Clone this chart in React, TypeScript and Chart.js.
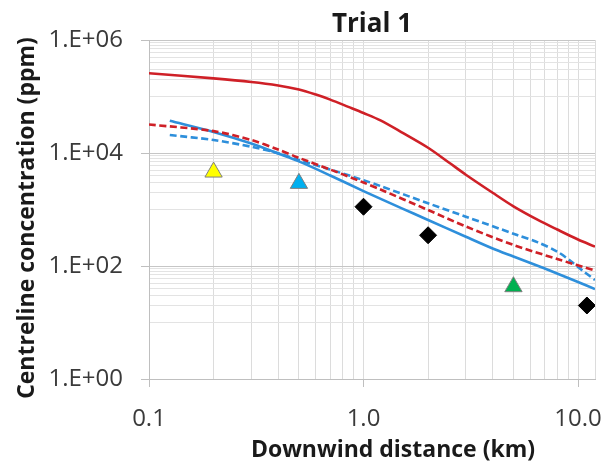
import { useEffect, useRef } from 'react';
import { Chart, registerables } from 'chart.js';

Chart.register(...registerables);

const FONT = '"Open Sans", "Liberation Sans", sans-serif';

const TITLE = 'Trial 1';
const X_TITLE = 'Downwind distance (km)';
const Y_TITLE = 'Centreline concentration (ppm)';

// Axis ticks / gridlines
const X_GRID = [0.1, 0.2, 0.3, 0.4, 0.5, 0.6, 0.7, 0.8, 0.9, 1, 2, 3, 4, 5, 6, 7, 8, 9, 10, 12];
const X_MAJOR = [0.1, 1, 10];
const X_LABELS = ['0.1', '1.0', '10.0'];
const Y_GRID = [
  1, 10, 20, 30, 40, 50, 60, 70, 80, 90, 100, 1000, 2000, 3000, 4000, 5000, 6000, 7000, 8000, 9000,
  1e4, 1e5, 2e5, 3e5, 4e5, 5e5, 6e5, 7e5, 8e5, 9e5, 1e6,
];
const Y_MAJOR = [1, 100, 1e4, 1e6];
const Y_LABELS = ['1.E+00', '1.E+02', '1.E+04', '1.E+06'];

// Model curves
const RED_SOLID_X = [0.1, 0.2, 0.3, 0.4, 0.5, 0.6, 0.7, 0.85, 1.0, 1.2, 1.5, 2.0, 2.5, 3.0, 4.0, 5.0, 6.5, 8.0, 10, 12];
const RED_SOLID_Y = [2.58e5, 2.09e5, 1.81e5, 1.57e5, 1.33e5, 1.08e5, 8.8e4, 6.55e4, 5.1e4, 3.78e4, 2.35e4, 1.24e4, 6.8e3, 4.13e3, 1.98e3, 1.14e3, 655, 442, 294, 220];

const RED_DASH_X = [0.1, 0.2, 0.3, 0.4, 0.5, 0.7, 1.0, 1.2, 2.0, 3.0, 5.0, 8.0, 12];
const RED_DASH_Y = [3.2e4, 2.44e4, 1.7e4, 1.15e4, 8.2e3, 5.1e3, 3.0e3, 2.26e3, 980, 500, 236, 133, 83];

const BLUE_SOLID_X = [0.125, 0.2, 0.3, 0.4, 0.5, 0.7, 1.0, 1.5, 2.0, 3.0, 4.0, 5.0, 7.0, 10.0, 12];
const BLUE_SOLID_Y = [3.73e4, 2.36e4, 1.47e4, 9.8e3, 7.1e3, 4.0e3, 2.12e3, 1.06e3, 652, 329, 204, 147, 90, 52, 39];

const BLUE_DASH_X = [0.125, 0.2, 0.3, 0.4, 0.5, 0.7, 1.0, 1.2, 2.0, 3.0, 5.2, 6.5, 8.0, 9.3, 10.5, 12];
const BLUE_DASH_Y = [2.08e4, 1.7e4, 1.29e4, 9.9e3, 7.5e3, 5.1e3, 3.3e3, 2.6e3, 1.29e3, 746, 354, 262, 180, 120, 83, 56.5];

// Observations
const YELLOW_X = [0.2];
const YELLOW_Y = [4.6e3];
const CYAN_X = [0.5];
const CYAN_Y = [2.9e3];
const GREEN_X = [5.0];
const GREEN_Y = [43];
const DIAMOND_X = [1.0, 2.0, 11.0];
const DIAMOND_Y = [1.12e3, 350, 20];

const RED = '#cf2027';
const BLUE = '#2e8fdb';

const pts = (xs: number[], ys: number[]) => xs.map((x, i) => ({ x, y: ys[i] }));
const findIdx = (arr: number[], v: number) => arr.findIndex((m) => Math.abs(m - v) <= m * 1e-9);

const textPlugin = {
  id: 'textPlugin',
  afterDraw(chart: any) {
    const { ctx, chartArea } = chart;
    ctx.save();
    ctx.fillStyle = '#1a1a1a';
    ctx.textAlign = 'center';
    ctx.textBaseline = 'alphabetic';
    ctx.font = `bold 26px ${FONT}`;
    ctx.fillText(TITLE, (chartArea.left + chartArea.right) / 2, 32);
    ctx.font = `bold 23px ${FONT}`;
    ctx.fillText(X_TITLE, 393, 457);
    ctx.translate(34, 218);
    ctx.rotate(-Math.PI / 2);
    ctx.fillText(Y_TITLE, 0, 0);
    ctx.restore();
  },
};

export default function App() {
  const ref = useRef<HTMLCanvasElement>(null);

  useEffect(() => {
    if (!ref.current) return;
    const lineDs = (label: string, xs: number[], ys: number[], color: string, dashed: boolean) => ({
      type: 'line' as const,
      label,
      data: pts(xs, ys),
      borderColor: color,
      backgroundColor: color,
      borderWidth: 2.6,
      borderDash: dashed ? [7, 3.5] : [],
      pointRadius: 0,
      pointHoverRadius: 0,
      tension: 0.3,
      fill: false,
    });
    const markerDs = (label: string, xs: number[], ys: number[], style: string, fill: string, border: string, r: number) => ({
      type: 'scatter' as const,
      label,
      data: pts(xs, ys),
      pointStyle: style,
      pointRadius: r,
      pointHoverRadius: r,
      backgroundColor: fill,
      borderColor: border,
      borderWidth: 1,
      showLine: false,
    });

    const chart = new Chart(ref.current, {
      type: 'line',
      data: {
        datasets: [
          markerDs('Obs A', YELLOW_X, YELLOW_Y, 'triangle', '#ffff00', '#7f7f7f', 10),
          markerDs('Obs B', CYAN_X, CYAN_Y, 'triangle', '#00b0f0', '#7f7f7f', 10),
          markerDs('Obs C', GREEN_X, GREEN_Y, 'triangle', '#00b050', '#7f7f7f', 10),
          markerDs('Obs D', DIAMOND_X, DIAMOND_Y, 'rectRot', '#000000', '#000000', 8.5),
          lineDs('Model red', RED_SOLID_X, RED_SOLID_Y, RED, false),
          lineDs('Model red dashed', RED_DASH_X, RED_DASH_Y, RED, true),
          lineDs('Model blue', BLUE_SOLID_X, BLUE_SOLID_Y, BLUE, false),
          lineDs('Model blue dashed', BLUE_DASH_X, BLUE_DASH_Y, BLUE, true),
        ] as any,
      },
      plugins: [textPlugin],
      options: {
        animation: false,
        responsive: true,
        maintainAspectRatio: false,
        layout: { padding: { top: 40, right: 8, left: 0, bottom: 0 } },
        plugins: {
          legend: { display: false },
          title: { display: false },
          tooltip: { enabled: false },
        },
        scales: {
          x: {
            type: 'logarithmic',
            min: 0.1,
            max: 12,
            afterBuildTicks: (s: any) => {
              s.ticks = X_GRID.map((v) => ({ value: v }));
            },
            afterFit: (s: any) => {
              s.height = 90;
              s.paddingLeft = 0;
              s.paddingRight = 0;
            },
            ticks: {
              autoSkip: false,
              maxRotation: 0,
              minRotation: 0,
              padding: 18,
              color: '#3a3a3a',
              font: { family: FONT, size: 24 },
              callback: (v: any) => {
                const i = findIdx(X_MAJOR, Number(v));
                return i >= 0 ? X_LABELS[i] : '';
              },
            },
            grid: {
              color: '#dcdcdc',
              lineWidth: 1,
              tickLength: 8,
              tickColor: (c: any) => (findIdx(X_MAJOR, c.tick?.value) >= 0 ? '#bfbfbf' : 'rgba(0,0,0,0)'),
            },
            border: { color: '#bfbfbf', width: 1 },
          },
          y: {
            type: 'logarithmic',
            min: 1,
            max: 1e6,
            afterBuildTicks: (s: any) => {
              s.ticks = Y_GRID.map((v) => ({ value: v }));
            },
            afterFit: (s: any) => {
              s.width = 149;
            },
            ticks: {
              autoSkip: false,
              padding: 18,
              color: '#3a3a3a',
              font: { family: FONT, size: 24 },
              callback: (v: any) => {
                const i = findIdx(Y_MAJOR, Number(v));
                return i >= 0 ? Y_LABELS[i] : '';
              },
            },
            grid: {
              color: (c: any) => (findIdx(Y_MAJOR, c.tick?.value) >= 0 ? '#c6c6c6' : '#e3e3e3'),
              lineWidth: 1,
              tickLength: 8,
              tickColor: (c: any) => (findIdx(Y_MAJOR, c.tick?.value) >= 0 ? '#bfbfbf' : 'rgba(0,0,0,0)'),
            },
            border: { color: '#bfbfbf', width: 1 },
          },
        },
      },
    });
    return () => chart.destroy();
  }, []);

  return (
    <div style={{ position: 'fixed', left: 0, top: 0, width: 606, height: 469, background: '#fff' }}>
      <canvas ref={ref} />
    </div>
  );
}
